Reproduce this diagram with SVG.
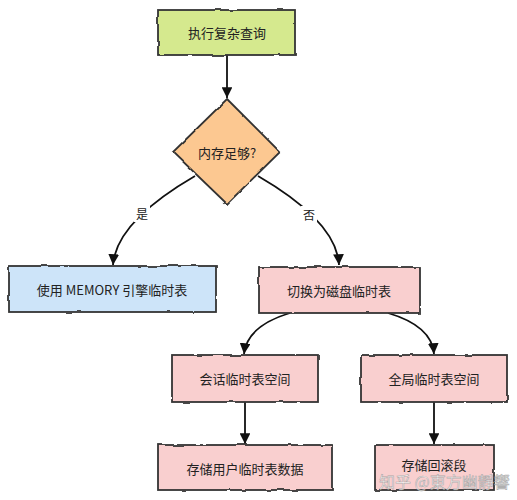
<svg xmlns="http://www.w3.org/2000/svg" width="517" height="500" viewBox="0 0 517 500">
<style>
.box{stroke:#333;stroke-width:1.8;filter:url(#rough)}
.t{font-family:"Noto Sans CJK SC","Noto Sans",sans-serif;font-size:13px;fill:#222;text-anchor:middle;dominant-baseline:central}
.edge{fill:none;stroke:#111;stroke-width:1.8;marker-end:url(#arr)}
.lbl{font-family:"Noto Sans CJK SC","Noto Sans",sans-serif;font-size:12px;fill:#222;text-anchor:middle;dominant-baseline:central}
.green{fill:#d5e98e}.orange{fill:#fcc891}.blue{fill:#cde4f9}.pink{fill:#f9cfcf}
.wm{font-family:"Noto Sans CJK SC",sans-serif;font-size:16px;fill:#fff;fill-opacity:0.8;stroke:#999;stroke-width:0.6;stroke-opacity:0.8}
</style>
<defs>
<filter id="rough" x="-5%" y="-10%" width="110%" height="120%">
<feTurbulence type="fractalNoise" baseFrequency="0.08" numOctaves="2" seed="3" result="n"/>
<feDisplacementMap in="SourceGraphic" in2="n" scale="2.5" xChannelSelector="R" yChannelSelector="G"/>
</filter>
<marker id="arr" viewBox="0 0 10 10" refX="10" refY="5" markerWidth="6" markerHeight="6" orient="auto-start-reverse" markerUnits="strokeWidth">
<path d="M0,0 L10,5 L0,10 z" fill="#111"/>
</marker>
</defs>
<g id="connectors">
<path class="edge" d="M227,55 L227,98"/>
<path class="edge" d="M195,176 Q116,222 113,265"/>
<path class="edge" d="M258,176 Q337,222 339,265"/>
<path class="edge" d="M290,313 Q247,326 244,354"/>
<path class="edge" d="M388,313 Q432,326 434,354"/>
<path class="edge" d="M245,402 L245,444"/>
<path class="edge" d="M434,402 L434,444"/>
<rect x="134" y="205" width="16" height="17" fill="#fff"/>
<text class="lbl" x="142" y="213">是</text>
<rect x="301" y="206" width="16" height="17" fill="#fff"/>
<text class="lbl" x="309" y="214">否</text>
</g>
<g id="n1"><rect class="box green" x="158" y="10" width="137" height="45"/><text class="t" x="227" y="32">执行复杂查询</text></g>
<g id="n2"><polygon class="box orange" points="227,99 280,152 227,204 173,152"/><text class="t" x="227" y="152">内存足够?</text></g>
<g id="n3"><rect class="box blue" x="9" y="266" width="207" height="46"/><text class="t" x="112" y="289">使用 MEMORY 引擎临时表</text></g>
<g id="n4"><rect class="box pink" x="259" y="267" width="161" height="46"/><text class="t" x="339" y="290">切换为磁盘临时表</text></g>
<g id="n5"><rect class="box pink" x="172" y="355" width="146" height="47"/><text class="t" x="245" y="378">会话临时表空间</text></g>
<g id="n6"><rect class="box pink" x="361" y="355" width="146" height="47"/><text class="t" x="434" y="378">全局临时表空间</text></g>
<g id="n7"><rect class="box pink" x="158" y="445" width="174" height="45"/><text class="t" x="245" y="468">存储用户临时表数据</text></g>
<g id="n8"><rect class="box pink" x="375" y="445" width="119" height="45"/><text class="t" x="434" y="464">存储回滚段</text></g>
<text class="wm" x="379" y="488">知乎 @東方幽靜響</text>
</svg>
